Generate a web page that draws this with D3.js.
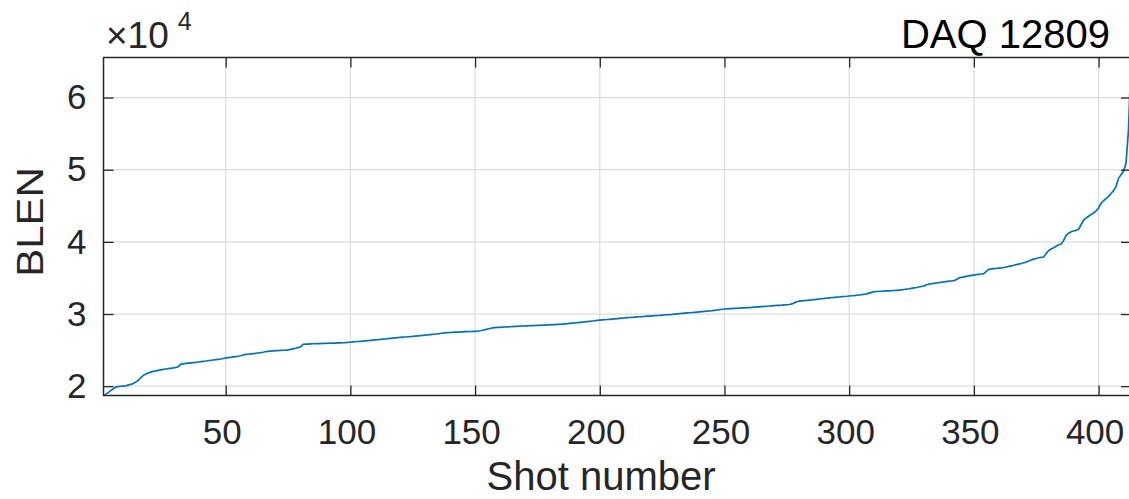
<!DOCTYPE html>
<html>
<head>
<meta charset="utf-8">
<script src="https://cdn.jsdelivr.net/npm/d3@7"></script>
<style>
  html, body { margin: 0; padding: 0; background: #fff; }
  svg { display: block; font-family: "Liberation Sans", Arial, Helvetica, sans-serif; }
</style>
</head>
<body>
<svg id="chart" width="1129" height="499"></svg>
<script>
// region data
const chartTitle = 'DAQ 12809';
const xLabel = 'Shot number';
const yLabel = 'BLEN';
const xTicks = [50, 100, 150, 200, 250, 300, 350, 400];
const yTicks = [2, 3, 4, 5, 6];
const yExponent = 4;

// BLEN per shot (sorted), shots 1..413
const blen = [
  18710, 18900, 19150, 19420, 19650, 19900, 19950, 19990, 20020, 20050,
  20180, 20250, 20380, 20600, 20820, 21200, 21500, 21700, 21850, 21950,
  22050, 22120, 22200, 22260, 22320, 22380, 22430, 22480, 22530, 22600,
  22700, 23050, 23100, 23150, 23190, 23230, 23270, 23310, 23350, 23400,
  23450, 23490, 23540, 23580, 23630, 23670, 23720, 23770, 23840, 23900,
  23950, 24000, 24050, 24100, 24150, 24220, 24330, 24400, 24430, 24470,
  24500, 24550, 24600, 24650, 24700, 24800, 24830, 24860, 24890, 24920,
  24940, 24960, 24980, 25000, 25040, 25100, 25180, 25260, 25350, 25450,
  25800, 25820, 25840, 25860, 25880, 25890, 25900, 25910, 25920, 25930,
  25950, 25960, 25970, 25980, 25990, 26000, 26020, 26050, 26080, 26100,
  26130, 26160, 26190, 26220, 26250, 26280, 26310, 26340, 26380, 26410,
  26440, 26480, 26510, 26540, 26580, 26620, 26660, 26700, 26730, 26760,
  26790, 26820, 26850, 26880, 26910, 26950, 26980, 27010, 27040, 27080,
  27110, 27150, 27190, 27230, 27260, 27300, 27350, 27400, 27420, 27440,
  27460, 27480, 27500, 27520, 27540, 27560, 27570, 27580, 27590, 27600,
  27630, 27680, 27750, 27830, 27920, 28000, 28080, 28110, 28140, 28160,
  28180, 28200, 28220, 28240, 28260, 28280, 28300, 28320, 28340, 28360,
  28370, 28380, 28400, 28410, 28430, 28440, 28460, 28470, 28490, 28500,
  28520, 28540, 28560, 28580, 28610, 28640, 28670, 28700, 28730, 28760,
  28800, 28840, 28880, 28910, 28950, 28990, 29030, 29070, 29110, 29150,
  29180, 29210, 29240, 29270, 29300, 29330, 29360, 29400, 29430, 29460,
  29500, 29520, 29550, 29570, 29600, 29620, 29650, 29670, 29700, 29720,
  29750, 29770, 29800, 29820, 29850, 29870, 29900, 29930, 29960, 30000,
  30030, 30060, 30090, 30120, 30150, 30180, 30210, 30240, 30270, 30300,
  30330, 30360, 30390, 30420, 30460, 30510, 30560, 30610, 30660, 30700,
  30720, 30740, 30760, 30780, 30800, 30820, 30840, 30860, 30880, 30900,
  30920, 30950, 30980, 31000, 31030, 31060, 31080, 31110, 31140, 31170,
  31190, 31210, 31230, 31260, 31290, 31320, 31400, 31550, 31700, 31800,
  31830, 31860, 31890, 31930, 31960, 32000, 32040, 32080, 32120, 32160,
  32200, 32250, 32280, 32300, 32330, 32360, 32400, 32430, 32460, 32500,
  32530, 32560, 32600, 32640, 32680, 32740, 32800, 32900, 33000, 33100,
  33120, 33140, 33160, 33180, 33200, 33220, 33240, 33260, 33280, 33300,
  33350, 33400, 33450, 33500, 33560, 33620, 33680, 33750, 33820, 33900,
  34050, 34150, 34200, 34250, 34300, 34350, 34400, 34450, 34500, 34550,
  34580, 34620, 34800, 35000, 35080, 35150, 35220, 35290, 35350, 35400,
  35450, 35500, 35550, 35600, 35900, 36200, 36250, 36300, 36330, 36370,
  36400, 36450, 36520, 36600, 36680, 36760, 36840, 36920, 37000, 37100,
  37200, 37350, 37500, 37600, 37700, 37800, 37850, 37900, 38400, 38800,
  39000, 39200, 39400, 39600, 39700, 40200, 40900, 41200, 41400, 41500,
  41600, 41750, 42400, 43000, 43300, 43550, 43800, 44000, 44300, 44700,
  45350, 45700, 46000, 46300, 46700, 47100, 47650, 48800, 49300, 49800,
  50900, 55500, 65550
];
// endregion

// region size
const margin = {left: 103.5, top: 57.5, right: 1131, bottom: 395.5};
const tickLen = 10;
// endregion

const svg = d3.select('#chart');
const scale = Math.pow(10, yExponent);

const x = d3.scaleLinear()
  .domain([1, blen.length])
  .range([margin.left, margin.right]);

const y = d3.scaleLinear()
  .domain([d3.min(blen) / scale, d3.max(blen) / scale])
  .range([margin.bottom, margin.top]);

const axisColor = '#262626';

// grid
svg.append('g')
  .selectAll('line')
  .data(xTicks)
  .join('line')
  .attr('x1', d => x(d)).attr('x2', d => x(d))
  .attr('y1', margin.top).attr('y2', margin.bottom)
  .attr('stroke', '#dcdcdc')
  .attr('stroke-width', 1.2);

svg.append('g')
  .selectAll('line')
  .data(yTicks)
  .join('line')
  .attr('x1', margin.left).attr('x2', margin.right)
  .attr('y1', d => y(d)).attr('y2', d => y(d))
  .attr('stroke', '#dcdcdc')
  .attr('stroke-width', 1.2);

// data line
const line = d3.line()
  .x((d, i) => x(i + 1))
  .y(d => y(d / scale));

svg.append('path')
  .datum(blen)
  .attr('d', line)
  .attr('fill', 'none')
  .attr('stroke', '#0072BD')
  .attr('stroke-width', 1.7)
  .attr('stroke-linejoin', 'round');

// axes (inward ticks on all four sides, like a boxed MATLAB axes)
const fmt = d => d;
svg.append('g')
  .attr('transform', 'translate(0,' + margin.bottom + ')')
  .call(d3.axisBottom(x).tickValues(xTicks).tickFormat(fmt).tickSizeInner(-tickLen).tickSizeOuter(0).tickPadding(24))
  .call(g => g.select('.domain').remove())
  .call(g => g.selectAll('.tick text').attr('dx', -4));

svg.append('g')
  .attr('transform', 'translate(0,' + margin.top + ')')
  .call(d3.axisTop(x).tickValues(xTicks).tickFormat('').tickSizeInner(-tickLen).tickSizeOuter(0))
  .call(g => g.select('.domain').remove());

svg.append('g')
  .attr('transform', 'translate(' + margin.left + ',0)')
  .call(d3.axisLeft(y).tickValues(yTicks).tickFormat(fmt).tickSizeInner(-tickLen).tickSizeOuter(0).tickPadding(17))
  .call(g => g.select('.domain').remove());

svg.append('g')
  .attr('transform', 'translate(' + margin.right + ',0)')
  .call(d3.axisRight(y).tickValues(yTicks).tickFormat('').tickSizeInner(-tickLen).tickSizeOuter(0))
  .call(g => g.select('.domain').remove());

svg.selectAll('.tick line')
  .attr('stroke', axisColor)
  .attr('stroke-width', 1.3);

svg.selectAll('.tick text')
  .attr('fill', axisColor)
  .style('font-size', '35px')
  .style('font-family', '"Liberation Sans", Arial, sans-serif');

// box
svg.append('rect')
  .attr('x', margin.left)
  .attr('y', margin.top)
  .attr('width', margin.right - margin.left)
  .attr('height', margin.bottom - margin.top)
  .attr('fill', 'none')
  .attr('stroke', axisColor)
  .attr('stroke-width', 1.5);

// exponent label
const expo = svg.append('text')
  .attr('x', 106)
  .attr('y', 48)
  .attr('fill', axisColor)
  .style('font-size', '37px');
expo.append('tspan').text('\u00d710');
expo.append('tspan')
  .attr('dy', -18)
  .attr('dx', 9)
  .style('font-size', '25px')
  .text(yExponent);

// title
svg.append('text')
  .attr('x', 1110)
  .attr('y', 48)
  .attr('text-anchor', 'end')
  .attr('fill', '#000')
  .style('font-size', '40px')
  .text(chartTitle);

// axis labels
svg.append('text')
  .attr('x', 601)
  .attr('y', 490)
  .attr('text-anchor', 'middle')
  .attr('fill', axisColor)
  .style('font-size', '40px')
  .text(xLabel);

svg.append('text')
  .attr('transform', 'translate(43,222) rotate(-90) scale(1,0.86)')
  .attr('text-anchor', 'middle')
  .attr('fill', axisColor)
  .style('font-size', '42px')
  .text(yLabel);
</script>
</body>
</html>
